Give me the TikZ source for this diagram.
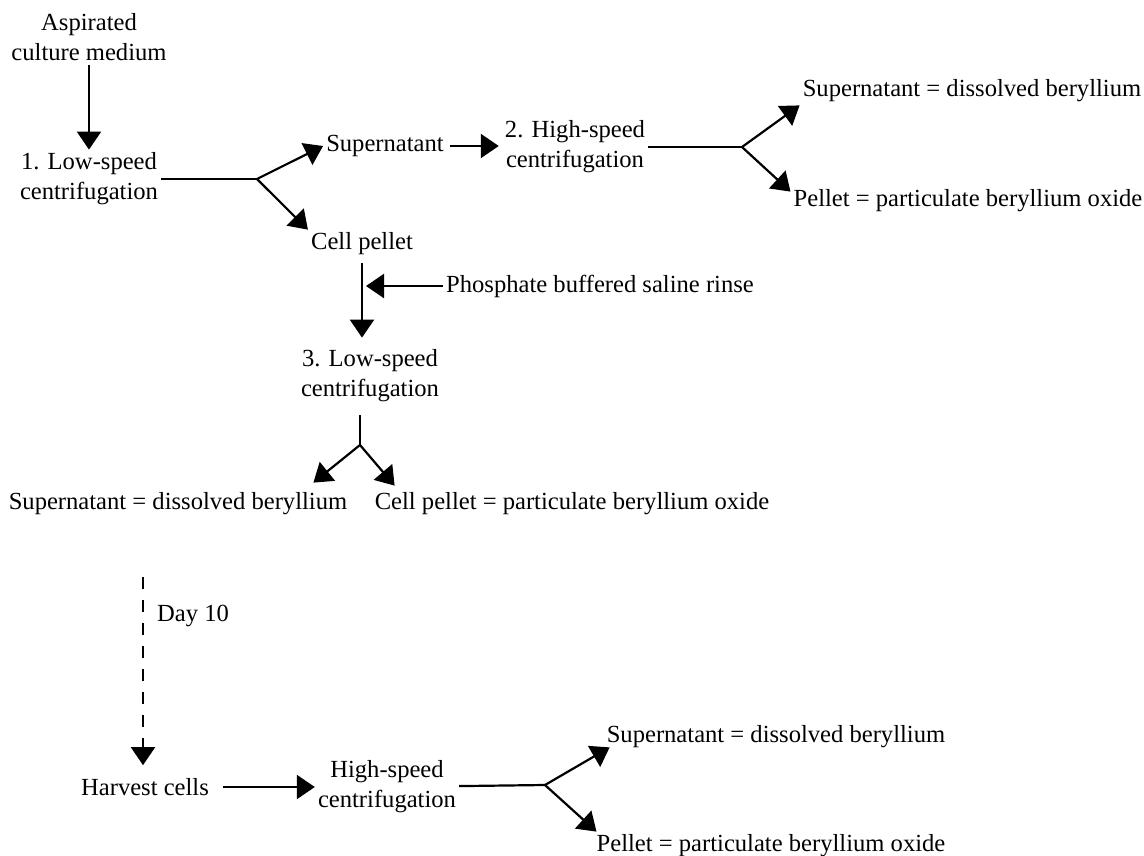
\documentclass[tikz,border=0pt]{standalone}
\usepackage{fontspec}
\setmainfont{Liberation Serif}
\usetikzlibrary{arrows.meta, positioning}

\begin{document}
\begin{tikzpicture}[x=1pt, y=-1pt,
  txt/.style={inner sep=3pt, font=\fontsize{24.6}{30}\selectfont, align=center},
  flow/.style={line width=2.2pt},
  arr/.style={flow, -{Triangle[length=18pt, width=24pt]}}
]
  \useasboundingbox (0,0) rectangle (1144,855);

  \node[txt] (asp) at (89, 37) {Aspirated\\culture medium};
  \node[txt] (low1) at (89, 179) {1. Low-speed\\centrifugation};
  \coordinate (j1) at (257, 179);
  \node[txt] (sup1) at (385, 146) {Supernatant};
  \node[txt] (cell) at (362, 244) {Cell pellet};
  \node[txt] (hs2) at (575, 147) {2. High-speed\\centrifugation};
  \coordinate (j2) at (742, 147);
  \node[txt] (sup2) at (972, 91) {Supernatant = dissolved beryllium};
  \node[txt] (pel2) at (968, 201) {Pellet = particulate beryllium oxide};
  \node[txt] (rinse) at (600, 286) {Phosphate buffered saline rinse};
  \coordinate (rin) at (366, 286);
  \node[txt] (low3) at (370, 376) {3. Low-speed\\centrifugation};
  \coordinate (j3) at (360, 445);
  \node[txt] (sup3) at (178, 504) {Supernatant = dissolved beryllium};
  \node[txt] (cellox) at (572, 504) {Cell pellet = particulate beryllium oxide};

  \coordinate (dtop) at (143, 577);
  \node[txt, anchor=west] (day) at (154, 616) {Day 10};
  \node[txt] (harvest) at (145, 787) {Harvest cells};
  \node[txt] (hs3) at (387, 787) {High-speed\\centrifugation};
  \coordinate (j4) at (545, 785);
  \node[txt] (sup4) at (776, 737) {Supernatant = dissolved beryllium};
  \node[txt] (pel4) at (771, 846) {Pellet = particulate beryllium oxide};

  \draw[arr, shorten <=1pt] (asp) -- (asp |- low1.north);
  \draw[flow] (low1) -- (j1);
  \draw[arr] (j1) -- (sup1.west);
  \draw[arr] (j1) -- (cell.north west);
  \draw[arr, shorten <=3pt, shorten >=3pt] (sup1.east) -- (sup1.east -| hs2.west);
  \draw[flow] (hs2) -- (j2);
  \draw[arr] (j2) -- (sup2.south west);
  \draw[arr] (j2) -- ([yshift=-5pt]pel2.north west);
  \draw[arr, shorten <=5pt, shorten >=9pt] (cell) -- (cell |- low3.north);
  \draw[arr] (rinse) -- (rin);
  \draw[flow, shorten <=10pt] (low3.south -| j3) -- (j3);
  \draw[arr] (j3) -- ([xshift=-37pt, yshift=7pt]sup3.north east);
  \draw[arr] (j3) -- ([xshift=23pt, yshift=4pt]cellox.north west);

  \draw[arr, dash pattern=on 12pt off 11pt, shorten >=10pt] (dtop) -- (dtop |- harvest.north);
  \draw[arr, shorten <=11pt] (harvest) -- (hs3);
  \draw[flow] (hs3) -- (j4);
  \draw[arr] (j4) -- ([xshift=6pt, yshift=4pt]sup4.south west);
  \draw[arr] (j4) -- ([xshift=3pt]pel4.north west);
\end{tikzpicture}
\end{document}
